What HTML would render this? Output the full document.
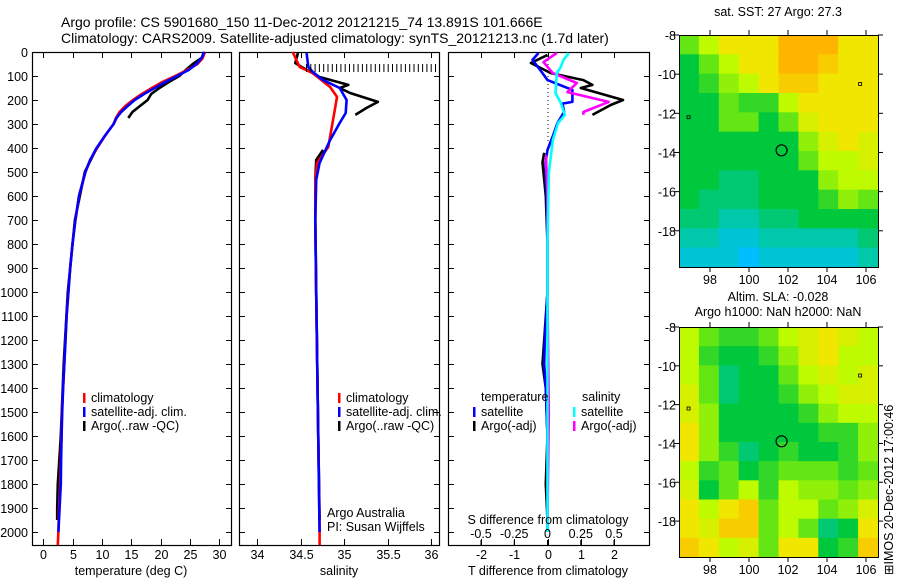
<!DOCTYPE html>
<html><head><meta charset="utf-8"><style>
html,body{margin:0;padding:0;background:#fff}
svg{display:block;font-family:"Liberation Sans",sans-serif}
text{font-size:12.5px;fill:#000}
</style></head><body>
<svg id="fig" width="900" height="580" viewBox="0 0 900 580">
<text x="61" y="27" style="font-size:14px">Argo profile: CS 5901680_150 11-Dec-2012 20121215_74 13.891S 101.666E</text>
<text x="61" y="43" style="font-size:14px">Climatology: CARS2009. Satellite-adjusted climatology: synTS_20121213.nc (1.7d later)</text>
<g id="g1"></g>
<g id="g2"></g>
<g id="g3"></g>
<g id="m1"></g>
<g id="m2"></g>
<text x="778" y="16" text-anchor="middle">sat. SST: 27 Argo: 27.3</text>
<text x="778" y="301" text-anchor="middle">Altim. SLA: -0.028</text>
<text x="778" y="316" text-anchor="middle">Argo h1000: NaN h2000: NaN</text>
<text transform="translate(893,575) rotate(-90)">⊞IMOS 20-Dec-2012 17:00:46</text>
</svg>
<script>
// ---- profile data ----
const tClimD=[0,25,50,75,100,125,150,175,200,225,250,275,300,350,400,450,500,600,700,800,900,1000,1100,1200,1300,1400,1500,1600,1700,1800,1900,2000,2054];
const tClim=[27.5,27.2,26.3,24.5,22.5,20.3,18.5,16.8,15.3,14,13,12.4,12,10.5,9.2,8,7.2,6.1,5.5,5,4.6,4.3,4.0,3.8,3.6,3.4,3.2,3.1,3.0,2.9,2.7,2.6,2.5];
const tSatD=[0,25,50,75,100,125,150,175,200,225,250,275,300,350,400,450,500,600,700,800,900,1000,1100,1200,1300,1400,1500,1600,1700,1800,1900,2000];
const tSat=[27.4,27.0,26.1,24.8,22.8,20.8,19.0,17.2,15.6,14.4,13.3,12.5,12,10.5,9.1,8,7.2,6.1,5.5,5.0,4.6,4.3,4.0,3.8,3.6,3.4,3.25,3.15,3.05,3.0,2.8,2.6];
const tArgoD=[0,25,50,75,100,125,150,175,200,225,250,275,null,400,500,700,1000,1300,1600,1800,1900,1950];
const tArgo=[27.6,27.0,25.5,24.3,23.2,21.4,19.8,18.4,17.8,16.5,15.2,14.5,null,9.1,7.1,5.4,4.2,3.5,3.0,2.5,2.4,2.4];
const sClimD=[0,62,88,146,187,229,312,396,462,533,700,1000,1500,2000,2054];
const sClim=[34.41,34.49,34.64,34.84,34.92,34.9,34.86,34.82,34.69,34.67,34.67,34.68,34.70,34.72,34.72];
const sSatD=[4,62,83,117,150,200,254,296,367,462,533,700,1000,1500,2000];
const sSat=[34.57,34.59,34.64,34.76,34.95,35.03,35.02,34.95,34.84,34.72,34.68,34.67,34.68,34.70,34.72];
const sArgoD=[4,46,60,104,137,150,171,208,233,262,null,408,450,533,700,1000,1500,1950];
const sArgo=[34.47,34.44,34.5,34.72,35.05,34.95,35.07,35.39,35.26,35.13,null,34.76,34.68,34.67,34.67,34.68,34.70,34.72];
const tdSatD=[4,33,88,117,158,208,215,250,296,354,408,462,600,800,1000,1200,1300,1400,1600,1800,2000];
const tdSat=[-0.27,-0.45,-0.15,0,0.75,0.75,0.45,0.5,0.3,0.15,0,-0.06,-0.02,0,0,-0.08,-0.1,-0.05,0,0,0];
const tdArgoD=[12,46,88,117,137,150,200,221,262,null,420,460,600,800,1000,1200,1300,1400,1600,1800,1950];
const tdArgo=[0,-0.5,0.1,1.08,1.35,1.0,2.27,1.9,1.35,null,-0.1,-0.15,-0.05,0,0,-0.1,-0.15,-0.05,0,-0.05,0];
const sdSatD=[4,33,62,88,171,212,262,296,367,504,800,1200,1600,2000];
const sdSat=[0.16,0.12,0.1,0.07,0.06,0.1,0.13,0.08,0.04,0.01,0,0,0,0];
const sdArgoD=[4,42,88,129,167,208,250,262,null,430,460,600,1000,1500,1950];
const sdArgo=[0.07,-0.03,0.04,0.22,0.15,0.46,0.27,0.27,null,-0.01,-0.01,0,0,0.01,0];
const depthTicks=[0,100,200,300,400,500,600,700,800,900,1000,1100,1200,1300,1400,1500,1600,1700,1800,1900,2000];
const tTicks=[0,5,10,15,20,25,30];
const sTicks=[34,34.5,35,35.5,36];
const tdTicks=[-2,-1,0,1,2];
const sdTicks=[-0.5,-0.25,0,0.25,0.5];
const sdTickLabels=["-0.5","-0.25","0","0.25","0.5"];
// ---- map data (normalized colour value 0..10) ----
const lonTicks=[98,100,102,104,106];
const latTicks=[-8,-10,-12,-14,-16,-18];
const sstGrid=[
[6,7,8,8,8,9,9,9,8,8],[5,6,7,8,8,9,9,8.5,8,8],[5,5.5,6.5,7,8,8.5,8.5,8,8,8],
[5,5,6,5.5,5.5,7,8,8,8,8],[5,5,6,6,5,6,7.5,8,8,8],[5,5,5,5,5,5,6.5,7.5,8,7.5],
[5,5,5,5,5,5,6,7,7,7.5],[5,5,4.5,4.5,5,5,5,6.5,7,7],[5,4.5,4.5,4.5,5,5,5,5.5,6.5,6],
[4.5,4.5,4,4,4.5,4.5,5,5,5,5],[4,4,3.5,3.5,4,4,4,4,4,4.5],[3.5,3.5,3.5,3,3.5,3.5,3.5,3.5,3.5,4]];
const slaGrid=[
[7,6,5.5,5.5,6,7,7.5,8,7.5,7],[7,5.5,5,5,5.5,6.5,7.5,8,7,7],[7,6,4.5,5,5,6,7,7.5,7,7.5],
[7.5,6,4.5,5,5,5.5,6.5,7,7.5,7.5],[7.5,6.5,5,5,5,5,5.5,6.5,7,7],[8,6.5,5,5,5,5,5,5.5,5.5,6.5],
[8,6.5,5.5,4.5,5,5.5,5,5,5.5,6.5],[7,5.5,6,5,5.5,6,6,6,5.5,6],[7.5,5,6,7,5.5,7,6.5,6.5,6,6.5],
[8,7,8,8.5,6,7,7,6,6.5,7.5],[8,7.5,8.5,8.5,6,7,6,4.5,5,8],[8.5,8,7,7.5,6,8,8,5,5.5,8.5]];
const argoPos=[101.67,-13.89];
const islands=[[105.7,-10.5],[96.9,-12.2]];

const NS="http://www.w3.org/2000/svg";
function mk(parent,tag,attrs){const e=document.createElementNS(NS,tag);for(const k in attrs)e.setAttribute(k,attrs[k]);parent.appendChild(e);return e;}
const Y0=52,YS=0.24,YB=545;
const yD=d=>Y0+d*YS;
function lin(d0,d1,p0,p1){return v=>p0+(v-d0)/(d1-d0)*(p1-p0);}

function frame(g,x0,x1,xs,ticks,labels,leftLabels){
  const r=mk(g,'rect',{x:x0+.5,y:Y0+.5,width:x1-x0,height:YB-Y0,fill:'#fff',stroke:'#000','stroke-width':1.2});
  
  
  depthTicks.forEach(d=>{
    const y=Math.round(yD(d))+.5;
    mk(g,'line',{x1:x0,x2:x0+6,y1:y,y2:y,stroke:'#000'});
    mk(g,'line',{x1:x1-5,x2:x1+1,y1:y,y2:y,stroke:'#000'});
    if(leftLabels){const t=mk(g,'text',{x:28,y:y+4.5,'text-anchor':'end'});t.textContent=d;
      
      }
  });
  ticks.forEach((v,i)=>{
    const x=Math.round(xs(v))+.5;
    mk(g,'line',{x1:x,x2:x,y1:YB-6,y2:YB,stroke:'#000'});
    mk(g,'line',{x1:x,x2:x,y1:Y0,y2:Y0+6,stroke:'#000'});
    const t=mk(g,'text',{x:x,y:559,'text-anchor':'middle'});t.textContent=labels?labels[i]:v;
    
    
  });
}
function line(g,xs,vals,ds,color,name,w){
  let d='',pen=false;
  for(let i=0;i<vals.length;i++){
    if(vals[i]===null||ds[i]===null){pen=false;continue;}
    d+=(pen?'L':'M')+xs(vals[i]).toFixed(1)+','+yD(ds[i]).toFixed(1);pen=true;
  }
  const p=mk(g,'path',{d:d,fill:'none',stroke:color,'stroke-width':w||2.6,'stroke-linejoin':'round'});
  
  
}
function legend(g,x,y,color,label,name){
  mk(g,'rect',{x:x,y:y-9,width:2.5,height:10,fill:color});
  const t=mk(g,'text',{x:x+8,y:y});t.textContent=label;
  
  
}
function txt(g,x,y,s,name,anchor){const t=mk(g,'text',{x:x,y:y,'text-anchor':anchor||'start'});t.textContent=s;
  
  return t;}

// panel 1
const g1=document.getElementById('g1');
const xT=lin(-1.9,32,32,231);
frame(g1,32,231,xT,tTicks,null,true);
line(g1,xT,tArgo,tArgoD,'#000','argo-temperature-line');
line(g1,xT,tClim,tClimD,'#f00','climatology-temperature-line');
line(g1,xT,tSat,tSatD,'#00f','satellite-temperature-line');
legend(g1,83,402,'#f00','climatology','legend-climatology');
legend(g1,83,416,'#00f','satellite-adj. clim.','legend-satellite');
legend(g1,83,430,'#000','Argo(..raw -QC)','legend-argo');
txt(g1,131,575,'temperature (deg C)','x-axis-title-temperature','middle');

// panel 2
const g2=document.getElementById('g2');
const xS=lin(34,36,257,431);
frame(g2,239,439,xS,sTicks,null,false);
line(g2,xS,sArgo,sArgoD,'#000','argo-salinity-line');
line(g2,xS,sClim,sClimD,'#f00','climatology-salinity-line');
line(g2,xS,sSat,sSatD,'#00f','satellite-salinity-line');
mk(g2,'line',{x1:306,x2:439,y1:68,y2:68,stroke:'#000','stroke-width':8,'stroke-dasharray':'1 3.3'});
legend(g2,338,402,'#f00','climatology','legend-climatology-2');
legend(g2,338,416,'#00f','satellite-adj. clim.','legend-satellite-2');
legend(g2,338,430,'#000','Argo(..raw -QC)','legend-argo-2');
txt(g2,327,517,'Argo Australia','credit-institution');
txt(g2,327,531,'PI: Susan Wijffels','credit-pi');
txt(g2,339,575,'salinity','x-axis-title-salinity','middle');

// panel 3
const g3=document.getElementById('g3');
const xTd=lin(-2,2,481,614);
const xSd=lin(-0.5,0.5,481,614);
frame(g3,448,649,xTd,tdTicks,null,false);
mk(g3,'line',{x1:548,x2:548,y1:Y0,y2:yD(380),stroke:'#000','stroke-dasharray':'1 3'});
line(g3,xTd,tdArgo,tdArgoD,'#000','argo-t-difference-line');
line(g3,xTd,tdSat,tdSatD,'#00f','satellite-t-difference-line');
line(g3,xSd,sdArgo,sdArgoD,'#f0f','argo-s-difference-line');
line(g3,xSd,sdSat,sdSatD,'#0ff','satellite-s-difference-line');
sdTicks.forEach((v,i)=>{const x=xSd(v);
  const t=mk(g3,'text',{x:x,y:538,'text-anchor':'middle'});t.textContent=sdTickLabels[i];
  
  
  mk(g3,'line',{x1:x,x2:x,y1:540,y2:YB,stroke:'#000'});
});
txt(g3,481,401,'temperature','legend-temperature-heading');
txt(g3,582,401,'salinity','legend-salinity-heading');
legend(g3,473,416,'#00f','satellite','legend-t-satellite');
legend(g3,473,430,'#000','Argo(-adj)','legend-t-argo');
legend(g3,573,416,'#0ff','satellite','legend-s-satellite');
legend(g3,573,430,'#f0f','Argo(-adj)','legend-s-argo');
txt(g3,548,524,'S difference from climatology','s-axis-title','middle');
txt(g3,548,575,'T difference from climatology','t-axis-title','middle');

// maps
const stops=[[0,[0,80,255]],[3,[0,190,255]],[4,[0,200,170]],[5,[0,200,60]],[6,[100,230,20]],[7,[190,250,0]],[8,[240,230,0]],[9,[255,180,0]],[10,[240,130,0]]];
function cmap(v){for(let i=1;i<stops.length;i++){if(v<=stops[i][0]){const a=stops[i-1],b=stops[i];const f=(v-a[0])/(b[0]-a[0]);
  return 'rgb('+a[1].map((c,j)=>Math.round(c+(b[1][j]-c)*f)).join(',')+')';}}return 'rgb(240,130,0)';}
function drawMap(id,grid,top,bot,nm){
  const g=document.getElementById(id);
  const L=679,R=878;
  const xl=lin(98,106,710,866);
  const yl=lin(-8,-18,top,top+(bot-top)*(10/11.85));
  const lonMin=96.4,lonMax=106.6+0.6,latMax=-8,latMin=-19.85;
  const nr=grid.length,nc=grid[0].length;
  const cw=(R-L)/nc,ch=(bot-top)/nr;
  grid.forEach((row,r)=>row.forEach((v,c)=>{
    const e=mk(g,'rect',{x:L+c*cw,y:top+r*ch,width:cw+0.6,height:ch+0.6,fill:cmap(v)});
    
    
  }));
  const f=mk(g,'rect',{x:L+.5,y:top+.5,width:R-L,height:bot-top,fill:'none',stroke:'#000'});
  
  
  lonTicks.forEach(v=>{const x=xl(v);
    mk(g,'line',{x1:x,x2:x,y1:top-5,y2:top,stroke:'#000'});
    mk(g,'line',{x1:x,x2:x,y1:bot,y2:bot+5,stroke:'#000'});
    txt(g,x,bot+17,String(v),'lon-tick-label','middle');});
  latTicks.forEach(v=>{const y=yl(v);
    mk(g,'line',{x1:L-5,x2:L,y1:y,y2:y,stroke:'#000'});
    mk(g,'line',{x1:R,x2:R+5,y1:y,y2:y,stroke:'#000'});
    txt(g,676,y+5,String(v),'lat-tick-label','end');});
  const m=mk(g,'circle',{cx:xl(argoPos[0]),cy:yl(argoPos[1]),r:5.5,fill:'none',stroke:'#000','stroke-width':1.2});
  
  
  islands.forEach(p=>{const e=mk(g,'rect',{x:xl(p[0])-1.5,y:yl(p[1])-1.5,width:3,height:3,fill:'none',stroke:'#000','stroke-width':0.8});
    
    });
}
drawMap('m1',sstGrid,35,267,'sst-map');
drawMap('m2',slaGrid,327,557,'sla-map');
</script>
</body></html>
